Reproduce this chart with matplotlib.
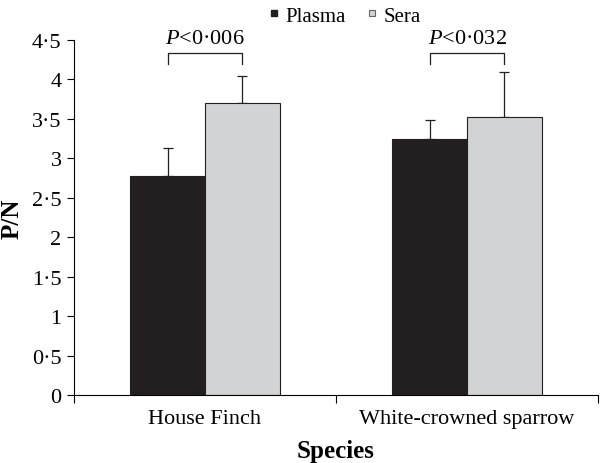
import matplotlib
matplotlib.use("Agg")
import matplotlib.pyplot as plt
from matplotlib.lines import Line2D
from matplotlib.ticker import FuncFormatter
import numpy as np

species = ["House Finch", "White-crowned sparrow"]
series_names = ["Plasma", "Sera"]
plasma = [2.77, 3.25]
plasma_err = [0.36, 0.23]
sera = [3.70, 3.53]
sera_err = [0.34, 0.57]
pvalues = ["<0\u00b7006", "<0\u00b7032"]
yticks = [0, 0.5, 1, 1.5, 2, 2.5, 3, 3.5, 4, 4.5]

plt.rcParams['font.family'] = ['Liberation Serif', 'DejaVu Serif']
plt.rcParams['mathtext.fontset'] = 'custom'
plt.rcParams['mathtext.rm'] = 'Liberation Serif'
plt.rcParams['mathtext.it'] = 'Liberation Serif:italic'
plt.rcParams['mathtext.bf'] = 'Liberation Serif:bold'

fig = plt.figure(figsize=(6, 4.64), dpi=100)
ax = fig.add_axes([74/600, 1 - 396/464, (598-74)/600, (396-41)/464])

x = np.arange(len(species))
w = 0.285
dark = "#231f20"
light = "#d1d3d4"
ax.bar(x - w/2, plasma, w, color=dark, edgecolor=dark, linewidth=0.8, zorder=2)
ax.bar(x + w/2, sera, w, color=light, edgecolor=dark, linewidth=0.8, zorder=2)
ax.errorbar(x - w/2, plasma, yerr=[np.zeros(2), plasma_err], fmt='none',
            ecolor=dark, elinewidth=0.9, capsize=3.5, capthick=0.9, zorder=1)
ax.errorbar(x + w/2, sera, yerr=[np.zeros(2), sera_err], fmt='none',
            ecolor=dark, elinewidth=0.9, capsize=3.5, capthick=0.9, zorder=1)

# significance brackets
for i, p in enumerate(pvalues):
    xl, xr = x[i] - w/2, x[i] + w/2
    ax.plot([xl, xl, xr, xr], [4.20, 4.34, 4.34, 4.20], color=dark, lw=0.9, clip_on=False)
    ax.text(x[i], 4.40, "$\\it{P}$" + p, ha='center', va='bottom', fontsize=16,
            clip_on=False)

ax.set_xlim(-0.5, 1.5)
ax.set_ylim(0, 4.5)
ax.set_yticks(yticks)
ax.yaxis.set_major_formatter(FuncFormatter(
    lambda v, pos: (f"{v:g}").replace('.', '\u00b7')))
ax.tick_params(axis='y', direction='out', length=5, width=0.8, labelsize=16, pad=4)

ax.set_xticks([-0.5, 0.5, 1.5])
ax.set_xticklabels([])
ax.set_xticks(x, minor=True)
ax.set_xticklabels(species, minor=True)
ax.tick_params(axis='x', which='major', direction='out', length=6, width=0.8)
ax.tick_params(axis='x', which='minor', length=0, labelsize=16, pad=10)

for s in ['top', 'right']:
    ax.spines[s].set_visible(False)
for s in ['left', 'bottom']:
    ax.spines[s].set_linewidth(0.8)

ax.set_ylabel("P/N", fontsize=18, fontweight='bold', labelpad=6)
ax.set_xlabel("Species", fontsize=18, fontweight='bold', labelpad=8)

handles = [
    Line2D([], [], marker='s', linestyle='none', markersize=5,
           markerfacecolor=dark, markeredgecolor=dark),
    Line2D([], [], marker='s', linestyle='none', markersize=5,
           markerfacecolor=light, markeredgecolor='#666666', markeredgewidth=0.8),
]
fig.legend(handles, series_names, loc='upper center', bbox_to_anchor=(0.575, 1.025),
           ncol=2, frameon=False, fontsize=15, handlelength=0.5, handletextpad=0.3,
           columnspacing=1.0)

fig.savefig("out.png", dpi=100)
